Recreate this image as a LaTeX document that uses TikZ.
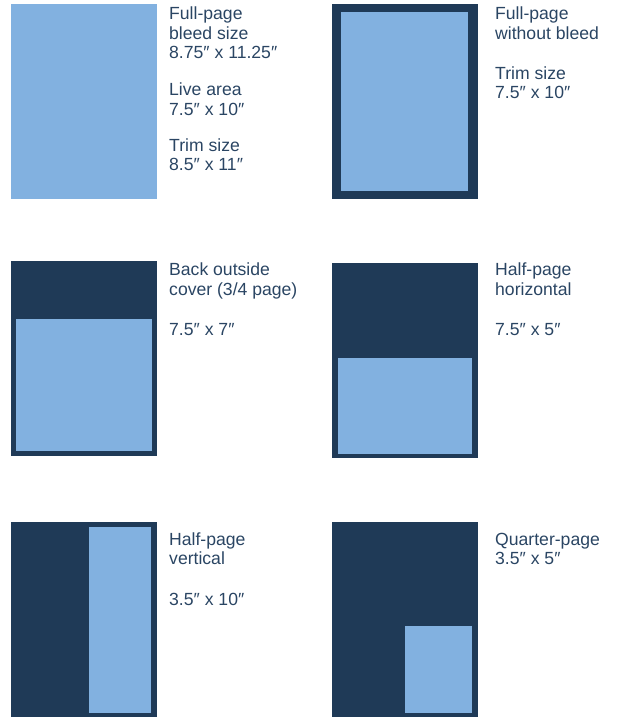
\documentclass[tikz,border=0pt]{standalone}
\usepackage{fontspec}
\setmainfont{Liberation Sans}
\definecolor{pagenavy}{HTML}{1F3A57}
\definecolor{adblue}{HTML}{82B1E0}
\definecolor{labelnavy}{HTML}{2A4563}
\newcommand\topstrut{\rule{0pt}{16pt}}

\begin{document}
\begin{tikzpicture}[
  x=1pt, y=-1pt,
  page/.style={rectangle, fill=pagenavy, anchor=north west, inner sep=0pt, minimum width=146pt, minimum height=195pt},
  ad/.style={rectangle, fill=adblue, anchor=north west, inner sep=0pt},
  label/.style={anchor=north west, align=left, inner sep=0pt, text=labelnavy, font=\fontsize{17.6}{19.6}\selectfont}
]
\useasboundingbox (0,0) rectangle (621,717);

% full page with bleed
\node[ad, minimum width=146pt, minimum height=195pt] (bleedad) at (11,4) {};
\node[label] (bleedname) at (169,3.3) {\topstrut Full-page\\bleed size\\8.75″ x 11.25″};
\node[label] (bleedlive) at (169,79.7) {\topstrut Live area\\7.5″ x 10″};
\node[label] (bleedtrim) at (169,135) {\topstrut Trim size\\8.5″ x 11″};

% full page without bleed
\node[page] (fullpage) at (332,4) {};
\node[ad, minimum width=127pt, minimum height=179pt] (fullad) at (341,12) {};
\node[label] (fullname) at (495,3.3) {\topstrut Full-page\\without bleed};
\node[label] (fulltrim) at (495,63) {\topstrut Trim size\\7.5″ x 10″};

% back outside cover
\node[page] (backpage) at (11,261) {};
\node[ad, minimum width=136pt, minimum height=132pt] (backad) at (16,319) {};
\node[label] (backname) at (169,259.7) {\topstrut Back outside\\cover (3/4 page)};
\node[label] (backsize) at (169,319) {\topstrut 7.5″ x 7″};

% half page horizontal
\node[page] (hhalfpage) at (332,263) {};
\node[ad, minimum width=134pt, minimum height=96pt] (hhalfad) at (338,358) {};
\node[label] (hhalfname) at (495,259.7) {\topstrut Half-page\\horizontal};
\node[label] (hhalfsize) at (495,319) {\topstrut 7.5″ x 5″};

% half page vertical
\node[page] (vhalfpage) at (11,522) {};
\node[ad, minimum width=62pt, minimum height=186pt] (vhalfad) at (89,527) {};
\node[label] (vhalfname) at (169,529) {\topstrut Half-page\\vertical};
\node[label] (vhalfsize) at (169,589) {\topstrut 3.5″ x 10″};

% quarter page
\node[page] (quarterpage) at (332,522) {};
\node[ad, minimum width=67pt, minimum height=87pt] (quarterad) at (405,626) {};
\node[label] (quartername) at (495,529) {\topstrut Quarter-page\\3.5″ x 5″};
\end{tikzpicture}
\end{document}
